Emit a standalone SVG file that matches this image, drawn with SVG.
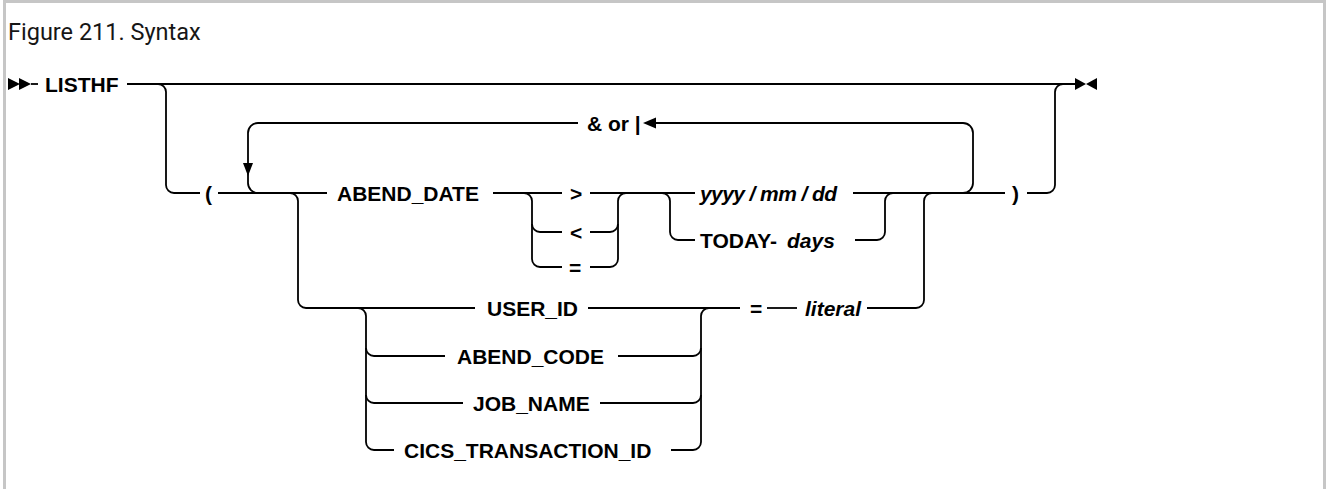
<svg xmlns="http://www.w3.org/2000/svg" width="1326" height="489" viewBox="0 0 1326 489">
<style>
.frame{fill:none;stroke:#c6c6c6;stroke-width:3}
.title{font-family:Roboto,"Liberation Sans",sans-serif;font-size:23.5px;fill:#161616}
.kw{font-family:"Liberation Sans",Arial,sans-serif;font-size:21px;font-weight:bold;fill:#000}
.var{font-family:"Liberation Sans",Arial,sans-serif;font-size:21px;font-weight:bold;font-style:italic;fill:#000}
.ln{fill:none;stroke:#000;stroke-width:1.8}
.ah{fill:#000;stroke:none}
</style>
<rect x="0" y="0" width="1326" height="489" fill="#fff"/>
<path class="frame" d="M4.5,489 V1.5 H1324.5 V489"/>
<text class="title" x="8" y="40">Figure 211. Syntax</text>

<g id="connectors">
  <polygon class="ah" points="8,78 20,84 8,90"/>
  <polygon class="ah" points="19,78 31,84 19,90"/>
  <path class="ln" d="M31,84 H38"/>
  <path class="ln" d="M127,84 H1075"/>
  <polygon class="ah" points="1075,78 1086,84 1075,90"/>
  <polygon class="ah" points="1097,78 1086,84 1097,90"/>
  <path class="ln" d="M158,84 A8,8 0 0 1 166,92 V185 A8,8 0 0 0 174,193 H200"/>
  <path class="ln" d="M218,193 H327"/>
  <path class="ln" d="M963,193 A10,10 0 0 0 973,183 V133 A10,10 0 0 0 963,123 H656"/>
  <path class="ln" d="M578,123 H258 A10,10 0 0 0 248,133 V183 A10,10 0 0 0 258,193"/>
  <polygon class="ah" points="643,123 656,117.5 656,128.5"/>
  <polygon class="ah" points="243,163 253,163 248,176"/>
  <path class="ln" d="M290,193 A8,8 0 0 1 298,201 V300 A8,8 0 0 0 306,308 H475"/>
  <path class="ln" d="M493,193 H562"/>
  <path class="ln" d="M524,193 A8,8 0 0 1 532,201 V259 A8,8 0 0 0 540,267 H562"/>
  <path class="ln" d="M532,224 A8,8 0 0 0 540,232 H562"/>
  <path class="ln" d="M590,193 H695"/>
  <path class="ln" d="M590,232 H610 A8,8 0 0 0 618,224 V201 A8,8 0 0 1 626,193"/>
  <path class="ln" d="M590,267 H610 A8,8 0 0 0 618,259 V224"/>
  <path class="ln" d="M662,193 A8,8 0 0 1 670,201 V232 A8,8 0 0 0 678,240 H695"/>
  <path class="ln" d="M853,193 H1005"/>
  <path class="ln" d="M855,240 H877 A8,8 0 0 0 885,232 V201 A8,8 0 0 1 893,193"/>
  <path class="ln" d="M588,308 H740"/>
  <path class="ln" d="M767,308 H797"/>
  <path class="ln" d="M867,308 H916 A8,8 0 0 0 924,300 V201 A8,8 0 0 1 932,193"/>
  <path class="ln" d="M358,308 A8,8 0 0 1 366,316 V442 A8,8 0 0 0 374,450 H394"/>
  <path class="ln" d="M366,348 A8,8 0 0 0 374,356 H445"/>
  <path class="ln" d="M366,395 A8,8 0 0 0 374,403 H463"/>
  <path class="ln" d="M618,356 H693 A8,8 0 0 0 701,348 V316 A8,8 0 0 1 709,308"/>
  <path class="ln" d="M600,403 H693 A8,8 0 0 0 701,395 V348"/>
  <path class="ln" d="M671,450 H693 A8,8 0 0 0 701,442 V395"/>
  <path class="ln" d="M1027,193 H1047 A8,8 0 0 0 1055,185 V92 A8,8 0 0 1 1063,84"/>
</g>

<g id="n-listhf"><text class="kw" x="45" y="91.5">LISTHF</text></g>
<g id="n-lparen"><text class="kw" x="205" y="200.5">(</text></g>
<g id="n-sep"><text class="kw" x="587" y="130.5">&amp; or |</text></g>
<g id="n-abend-date"><text class="kw" x="337" y="200.5">ABEND_DATE</text></g>
<g id="n-gt"><text class="kw" x="570" y="200.5">&gt;</text></g>
<g id="n-lt"><text class="kw" x="570" y="239.5">&lt;</text></g>
<g id="n-eq1"><text class="kw" x="569" y="274.5">=</text></g>
<g id="n-date"><text class="var" x="700" y="200.5" textLength="137" lengthAdjust="spacing">yyyy / mm / dd</text></g>
<g id="n-today"><text class="kw" x="700" y="247.5">TODAY-</text><text class="var" x="787" y="247.5">days</text></g>
<g id="n-rparen"><text class="kw" x="1012" y="200.5">)</text></g>
<g id="n-user-id"><text class="kw" x="487" y="315.5">USER_ID</text></g>
<g id="n-eq2"><text class="kw" x="750" y="315.5">=</text></g>
<g id="n-literal"><text class="var" x="805" y="315.5">literal</text></g>
<g id="n-abend-code"><text class="kw" x="457" y="363.5">ABEND_CODE</text></g>
<g id="n-job-name"><text class="kw" x="473" y="410.5">JOB_NAME</text></g>
<g id="n-cics"><text class="kw" x="404" y="457.5">CICS_TRANSACTION_ID</text></g>
</svg>
